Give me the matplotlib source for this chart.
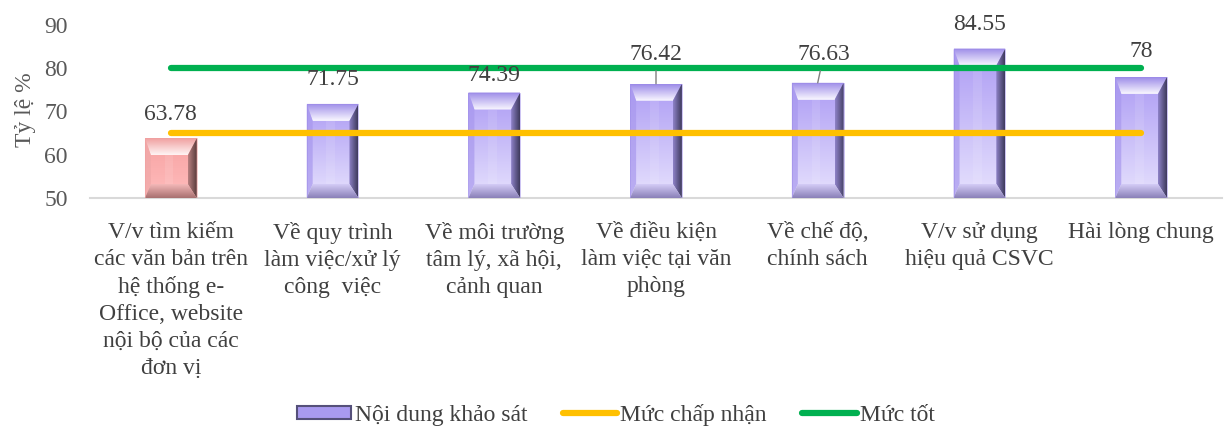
# -*- coding: utf-8 -*-
import numpy as np
import matplotlib
matplotlib.use("Agg")
import matplotlib.pyplot as plt
from matplotlib.patches import Polygon, Patch
from matplotlib.lines import Line2D

plt.rcParams['font.family'] = ['Liberation Serif', 'DejaVu Serif']

categories = [
    "V/v tìm kiếm\ncác văn bản trên\nhệ thống e-\nOffice, website\nnội bộ của các\nđơn vị",
    "Về quy trình\nlàm việc/xử lý\ncông  việc",
    "Về môi trường\ntâm lý, xã hội,\ncảnh quan",
    "Về điều kiện\nlàm việc tại văn\nphòng",
    "Về chế độ,\nchính sách",
    "V/v sử dụng\nhiệu quả CSVC",
    "Hài lòng chung",
]
values = [63.78, 71.75, 74.39, 76.42, 76.63, 84.55, 78]
value_labels = ["63.78", "71.75", "74.39", "76.42", "76.63", "84.55", "78"]
acceptable = [65] * 7
good = [80] * 7
y_ticks = [50, 60, 70, 80, 90]

# label offsets in pixels (dx, dy) from bar top, and leader line flags
label_offsets = [(0, 24), (0, 24), (0, 17), (0, 29), (6, 28), (0, 24), (0, 25)]
leaders = [False, False, False, True, True, False, False]

purple = dict(face_top='#ad9cf4', face_bot='#e6e1fd', top='#faf8ff', top_out='#9c8be8',
              left='#a898ee', right_in='#8e82c8', right_out='#3e3a5c',
              bot_in='#d4ccf6', bot_out='#8a80b8')
red = dict(face_top='#f7a2a2', face_bot='#ffbcbc', top='#fff4f4', top_out='#f0a0a0',
           left='#f0a8a8', right_in='#b88080', right_out='#5a3c3c',
           bot_in='#f4b8b8', bot_out='#a87070')

fig = plt.figure(figsize=(12.26, 4.30), dpi=100)
ax = fig.add_axes([90 / 1226, 232 / 430, 1132 / 1226, 173 / 430])
ax.set_xlim(-0.5, len(values) - 0.5)
ax.set_ylim(50, 90)

W = 0.32
ppx = 1132 / len(values)   # pixels per x unit
ppy = 173 / 40.0           # pixels per y unit


def grad_poly(pts, c1, c2, vertical=True, z=2):
    poly = Polygon(pts, closed=True, facecolor='none', edgecolor='none')
    ax.add_patch(poly)
    xs = [p[0] for p in pts]
    ys = [p[1] for p in pts]
    t = np.linspace(0, 1, 64)
    a = np.array(matplotlib.colors.to_rgb(c1))
    b = np.array(matplotlib.colors.to_rgb(c2))
    cols = a[None, :] * (1 - t[:, None]) + b[None, :] * t[:, None]
    if vertical:
        img = cols[:, None, :]  # top -> c1
    else:
        img = cols[None, :, :]  # left -> c1
    im = ax.imshow(img, extent=(min(xs), max(xs), min(ys), max(ys)),
                   origin='upper', aspect='auto', zorder=z, interpolation='bilinear')
    im.set_clip_path(poly)


def bevel_bar(x, top, c):
    l, r, b, t = x - W / 2, x + W / 2, 50, top
    sl = 6 / ppx
    sr = 9 / ppx
    st = 17 / ppy
    sb = 14 / ppy
    # face
    grad_poly([(l, b), (r, b), (r, t), (l, t)], c['face_top'], c['face_bot'])
    # soft highlight streak
    ax.add_patch(Polygon([(x - W * 0.12, t - st), (x + W * 0.05, t - st),
                          (x + W * 0.05, b + sb), (x - W * 0.12, b + sb)],
                         facecolor='white', alpha=0.1, edgecolor='none', zorder=3))
    # top bevel
    grad_poly([(l, t), (r, t), (r - sr, t - st), (l + sl, t - st)], c['top_out'], c['top'], z=3)
    # left bevel
    ax.add_patch(Polygon([(l, t), (l + sl, t - st), (l + sl, b + sb), (l, b)],
                         facecolor=c['left'], alpha=0.7, edgecolor='none', zorder=3))
    # right bevel
    grad_poly([(r, t), (r - sr, t - st), (r - sr, b + sb), (r, b)], c['right_in'], c['right_out'],
              vertical=False, z=3)
    # bottom bevel
    grad_poly([(l, b), (r, b), (r - sr, b + sb), (l + sl, b + sb)], c['bot_in'], c['bot_out'], z=3)
    ax.add_patch(Polygon([(l, b), (r, b), (r, t), (l, t)], closed=True, facecolor='none',
                         edgecolor=c['top_out'], lw=0.6, alpha=0.6, zorder=4))


x = np.arange(len(values))
for i, v in enumerate(values):
    bevel_bar(x[i], v, red if i == 0 else purple)

ax.plot(x, acceptable, color='#FFC000', lw=4.5, solid_capstyle='round', zorder=6)
ax.plot(x, good, color='#00B050', lw=4.5, solid_capstyle='round', zorder=6)

for i, v in enumerate(values):
    dx, dy = label_offsets[i]
    ap = dict(arrowstyle='-', color='#808080', lw=1, shrinkA=2, shrinkB=0) if leaders[i] else None
    ax.annotate(value_labels[i], xy=(x[i], v), xytext=(dx, dy), textcoords='offset pixels',
                ha='center', va='center', fontsize=17, color='#404040', zorder=8,
                arrowprops=ap)

ax.set_xticks(x)
ax.set_xticklabels(categories, fontsize=17, color='#404040', linespacing=1.38, va='top')
ax.set_yticks(y_ticks)
ax.set_yticklabels([str(t) for t in y_ticks], fontsize=17, color='#595959')
ax.tick_params(axis='both', length=0)
ax.tick_params(axis='x', pad=17)
ax.tick_params(axis='y', pad=16)
for s in ['top', 'right', 'left']:
    ax.spines[s].set_visible(False)
ax.spines['bottom'].set_color('#d9d9d9')
ax.spines['bottom'].set_linewidth(1.5)

fig.text(26 / 1226, 1 - 110 / 430, "Tỷ lệ %", rotation=90, ha='center', va='center',
         fontsize=17, color='#595959')

handles = [Patch(facecolor='#a99af0', edgecolor='#55507a', lw=1.5),
           Line2D([], [], color='#FFC000', lw=4.5, solid_capstyle='round'),
           Line2D([], [], color='#00B050', lw=4.5, solid_capstyle='round')]
fig.legend(handles, ["Nội dung khảo sát", "Mức chấp nhận", "Mức tốt"], loc='center',
           bbox_to_anchor=(616 / 1226, 1 - 415 / 430), ncol=3, frameon=False, fontsize=17,
           handlelength=2.3, handleheight=0.5, columnspacing=1.5, handletextpad=0.15,
           labelcolor='#404040')

fig.savefig('out.png', dpi=100)
